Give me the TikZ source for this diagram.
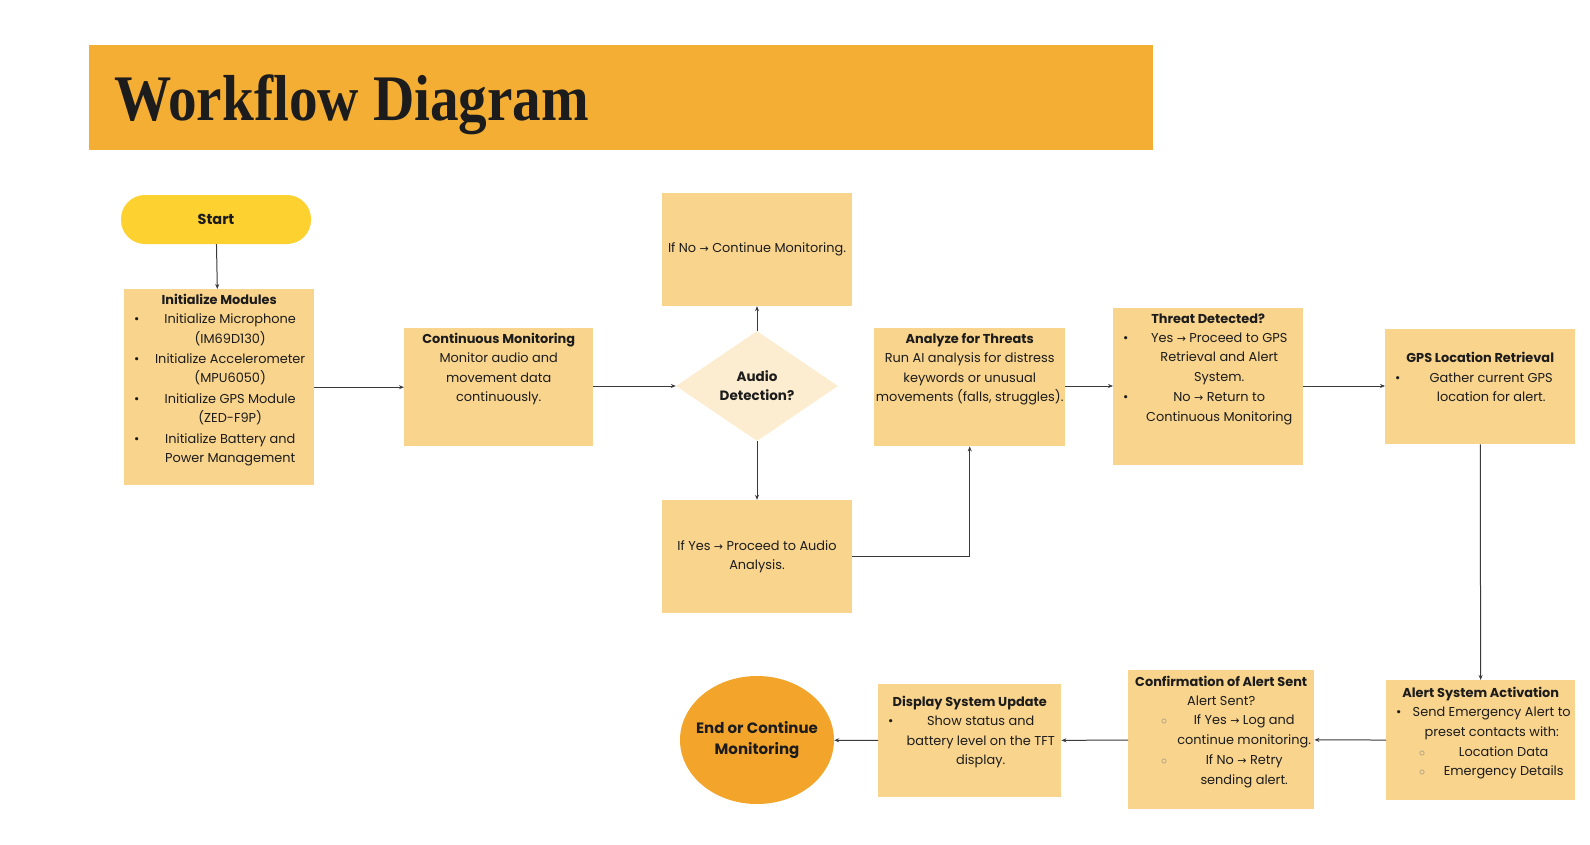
\documentclass[tikz,border=0pt]{standalone}
\usepackage{fontspec}
\setmainfont{Poppins}
\newfontfamily\titlefont{Liberation Serif}
\newfontfamily\symfont{DejaVu Sans}
\usetikzlibrary{shapes.geometric,arrows.meta,positioning}
\definecolor{band}{HTML}{F4AE33}
\definecolor{startc}{HTML}{FDD130}
\definecolor{cardc}{HTML}{F9D48D}
\definecolor{decc}{HTML}{FDEDD0}
\definecolor{endc}{HTML}{F3A52B}
\definecolor{ink}{HTML}{1C1C1C}
\definecolor{wire}{HTML}{3A3A3A}
% text helpers for the cards
\newcommand\ttl[1]{\strut\makebox[\linewidth]{\bfseries #1}\par}
\newcommand\plain[1]{\noindent\makebox[\linewidth]{\begin{tabular}[t]{@{}c@{}}#1\end{tabular}}\par}
\newcommand\bitem[1]{\noindent\makebox[22pt][l]{\hspace*{10pt}\textbullet}\makebox[\dimexpr\linewidth-22pt\relax]{\begin{tabular}[t]{@{}c@{}}#1\end{tabular}}\par}
\newcommand\sitem[1]{\noindent\makebox[46pt][l]{\hspace*{33pt}{\color{gray}$\circ$}}\makebox[\dimexpr\linewidth-46pt\relax]{\begin{tabular}[t]{@{}c@{}}#1\end{tabular}}\par}
\newcommand\cardtext[4]{\parbox[c][#2pt][t]{#1pt}{\vspace*{#3pt}#4}}
\newcommand\ra{{\symfont\scalebox{0.85}{→}}}
\tikzset{
  txt/.style={text=ink, font=\fontsize{12.9}{19.4}\selectfont},
  card/.style={txt, fill=cardc, inner sep=0pt, anchor=north west},
  plaincard/.style={txt, fill=cardc, inner sep=0pt, minimum width=190, minimum height=113, align=center},
  startnode/.style={txt, fill=startc, rounded corners=24pt, minimum width=190, minimum height=49, font=\fontsize{14.5}{19}\selectfont\bfseries},
  decnode/.style={txt, fill=decc, diamond, aspect=1.5, inner sep=0pt, minimum width=162, minimum height=110, align=center, font=\fontsize{13.5}{19}\selectfont\bfseries},
  endnode/.style={fill=endc, ellipse, inner sep=0pt, minimum width=154, minimum height=128},
  flow/.style={draw=wire, line width=1pt, -{Stealth[length=5pt,width=4pt]}}
}
\begin{document}
\begin{tikzpicture}[x=1pt, y=-1pt]
  \useasboundingbox (0,0) rectangle (1590,844);
  % title band
  \fill[band] (89,45) rectangle (1153,150);
  \node[anchor=base west, text=ink, inner sep=0pt, font=\titlefont\bfseries\fontsize{65}{65}\selectfont] (title) at (114,120) {\scalebox{0.88}[1]{Workflow Diagram}};

  \node[startnode] (start) at (216,219.5) {Start};
  \node[card] (init) at (124,289) {\cardtext{190}{196}{1.5}{%
      \ttl{Initialize Modules}
      \bitem{Initialize Microphone\\(IM69D130)}
      \bitem{Initialize Accelerometer\\(MPU6050)}
      \bitem{Initialize GPS Module\\(ZED-F9P)}
      \bitem{Initialize Battery and\\Power Management}}};
  \node[card] (cm) at (404,328) {\cardtext{189}{118}{1.7}{%
      \ttl{Continuous Monitoring}
      \plain{Monitor audio and\\movement data\\continuously.}}};
  \node[decnode] (dec) at (757,386) {Audio\\Detection?};
  \node[plaincard] (nobox) at (757,249.5) {If No \ra{} Continue Monitoring.};
  \node[plaincard] (yesbox) at (757,556.5) {If Yes \ra{} Proceed to Audio\\Analysis.};
  \node[card] (analyze) at (874,328) {\cardtext{191}{118}{1.7}{%
      \ttl{Analyze for Threats}
      \plain{Run AI analysis for distress\\keywords or unusual\\movements (falls, struggles).}}};
  \node[card] (threat) at (1113,308) {\cardtext{190}{157}{1.4}{%
      \ttl{Threat Detected?}
      \bitem{Yes \ra{} Proceed to GPS\\Retrieval and Alert\\System.}
      \bitem{No \ra{} Return to\\Continuous Monitoring}}};
  \node[card] (gps) at (1385,329) {\cardtext{190}{115}{20}{%
      \ttl{GPS Location Retrieval}
      \bitem{Gather current GPS\\location for alert.}}};
  \node[card] (alert) at (1386,680) {\cardtext{189}{120}{3.6}{%
      \ttl{Alert System Activation}
      \bitem{Send Emergency Alert to\\preset contacts with:}
      \sitem{Location Data}
      \sitem{Emergency Details}}};
  \node[card] (conf) at (1128,670) {\cardtext{186}{139}{2.4}{%
      \ttl{Confirmation of Alert Sent}
      \plain{Alert Sent?}
      \sitem{If Yes \ra{} Log and\\continue monitoring.}
      \sitem{If No \ra{} Retry\\sending alert.}}};
  \node[card] (display) at (878,684) {\cardtext{183}{113}{8.7}{%
      \ttl{Display System Update}
      \bitem{Show status and\\battery level on the TFT\\display.}}};
  \node[endnode, label={[txt, align=center, font=\fontsize{15}{21}\selectfont\bfseries]center:End or Continue\\Monitoring}] (end) at (757,740) {};

  % connectors
  \draw[flow] (start) -- (init);
  \draw[flow] (init) -- (cm);
  \draw[flow] (cm.east |- dec) -- (dec.west);
  \draw[flow] (dec) -- (nobox);
  \draw[flow] (dec) -- (yesbox);
  \draw[flow] (yesbox) -| (analyze);
  \draw[flow] (analyze.east |- dec) -- (threat.west |- dec);
  \draw[flow] (threat.east |- dec) -- (gps.west |- dec);
  \draw[flow] (gps) -- (alert);
  \draw[flow] (alert) -- (conf);
  \draw[flow] (conf) -- (display);
  \draw[flow] (display) -- (end);
\end{tikzpicture}
\end{document}
